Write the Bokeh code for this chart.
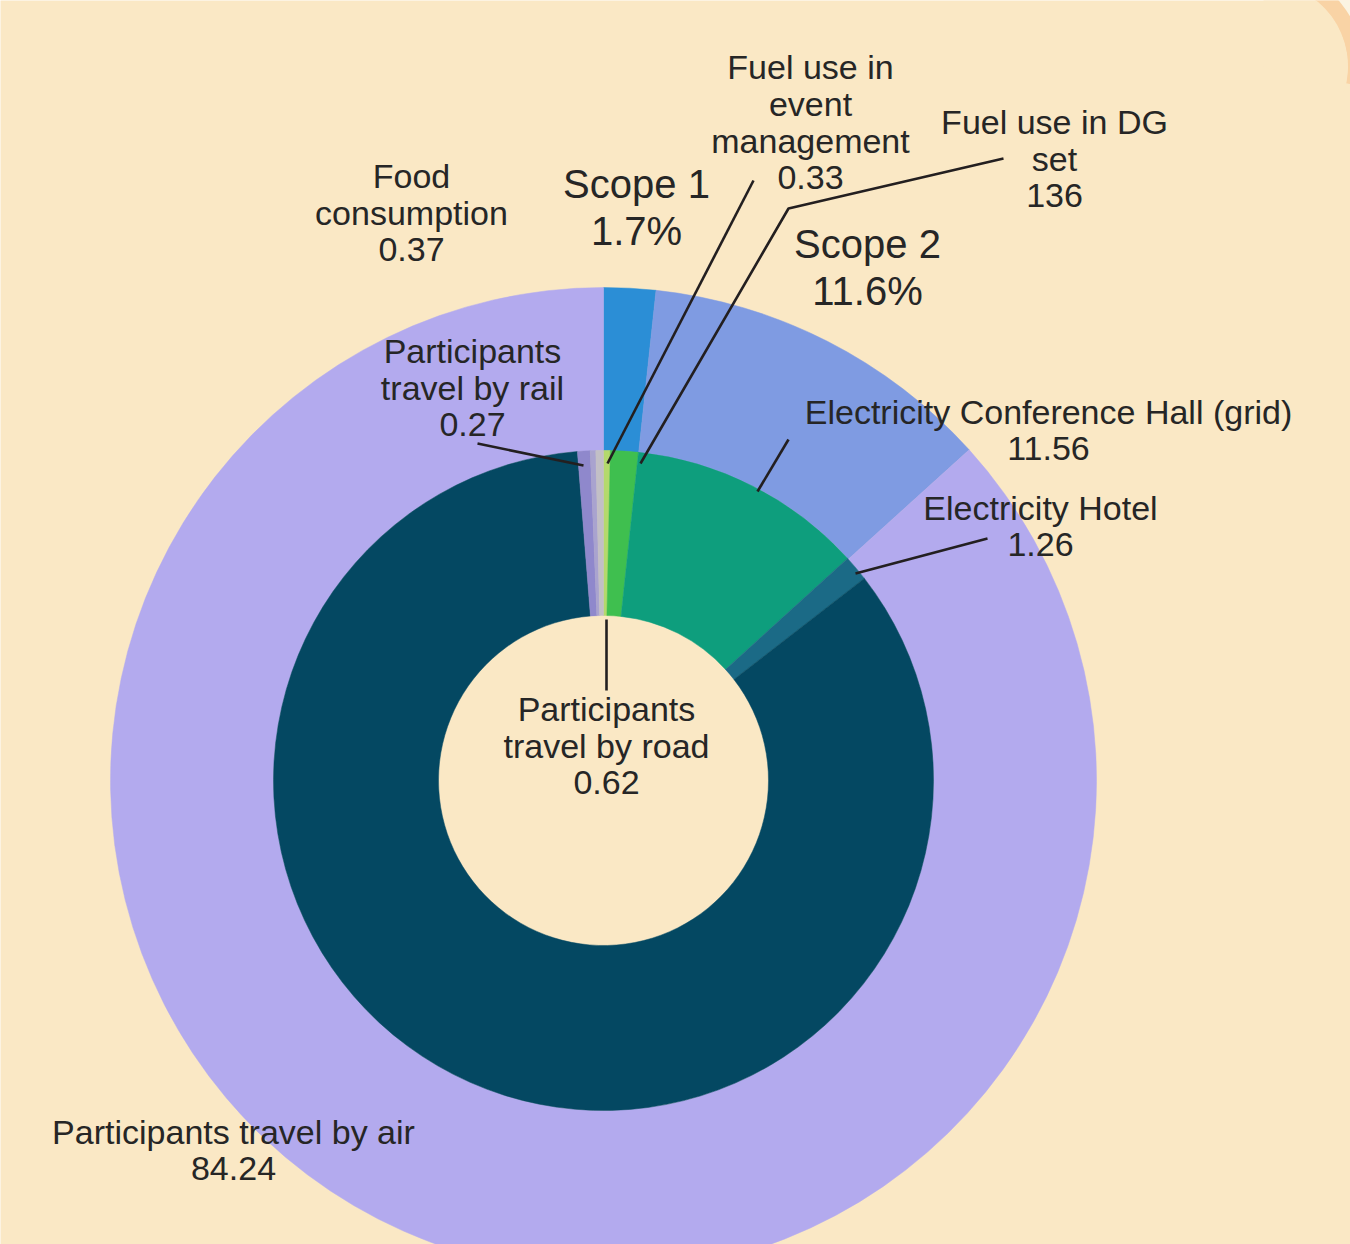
import numpy as np
from bokeh.plotting import figure
from bokeh.models import Range1d
from bokeh.core.properties import value
from bokeh.embed import file_html
from bokeh.resources import INLINE

# ---------------- data ----------------
scope_names = ["Scope 1", "Scope 2", "Scope 3"]
scope_pct = [1.7, 11.6, 86.7]
scope_colors = ["#2B8ED6", "#7F9BE2", "#B3AAEE"]

source_names = ["Fuel use in event management", "Fuel use in DG set",
                "Electricity Conference Hall (grid)", "Electricity Hotel",
                "Participants travel by air", "Participants travel by road",
                "Participants travel by rail", "Food consumption"]
source_values = [0.33, 1.36, 11.56, 1.26, 84.24, 0.62, 0.27, 0.37]
source_colors = ["#B4D96C", "#3FBF4F", "#0E9E7D", "#1B6A86",
                 "#044862", "#8F88CC", "#A9A3CF", "#C2BFC6"]

label_texts = [
    ["Fuel use in", "event", "management", "0.33"],
    ["Fuel use in DG", "set", "136"],
    ["Electricity Conference Hall (grid)", "11.56"],
    ["Electricity Hotel", "1.26"],
    ["Participants travel by air", "84.24"],
    ["Participants", "travel by road", "0.62"],
    ["Participants", "travel by rail", "0.27"],
    ["Food", "consumption", "0.37"],
]
scope_label_texts = [["Scope 1", "1.7%"], ["Scope 2", "11.6%"]]

# ---------------- layout (page pixels, y downward) ----------------
W, H = 1350, 1244
BG = "#FAE8C5"
TXT = "#262626"
CX, CY = 603, 780
R_OUT, R_MID, R_IN = 493, 330, 165

label_pos = [(810, 66), (1054, 121), (1048, 411), (1040, 507),
             (233, 1131), (606, 708), (472, 350), (411, 175)]
scope_label_pos = [(636, 183), (867, 243)]
LINE_STEP = 37
SCOPE_STEP = 47

leaders = [
    [(753, 180), (607, 463)],
    [(1003, 158), (788, 208), (640, 463)],
    [(788, 439), (757, 491)],
    [(987, 538), (855, 573)],
    [(606, 619), (606, 690)],
    [(477, 443), (583, 465)],
]

p = figure(width=W, height=H, output_backend="svg", toolbar_location=None,
           x_range=Range1d(0, W), y_range=Range1d(-H, 0),
           min_border=0, background_fill_color=BG, border_fill_color=BG,
           outline_line_color=None)
p.axis.visible = False
p.grid.visible = False


def angles(vals):
    frac = np.asarray(vals, dtype=float) / float(np.sum(vals))
    cum = np.concatenate([[0.0], np.cumsum(frac)])
    start = np.pi / 2 - cum[:-1] * 2 * np.pi
    end = np.pi / 2 - cum[1:] * 2 * np.pi
    return start, end


# frame corner (top-right)
p.quad(left=1285, right=1360, top=0, bottom=-60, fill_color="#FBF4E2", line_color=None)
p.annular_wedge(x=1263, y=-66, inner_radius=84, outer_radius=100,
                start_angle=-0.2, end_angle=np.pi / 2, fill_color="#F9D3A5", line_color=None)
p.wedge(x=1263, y=-66, radius=84.5, start_angle=-0.3, end_angle=np.pi / 2,
        fill_color=BG, line_color=None)

# outer ring: scopes
s0, s1 = angles(scope_pct)
p.annular_wedge(x=CX, y=-CY, inner_radius=R_MID, outer_radius=R_OUT,
                start_angle=s0, end_angle=s1, direction="clock",
                fill_color=scope_colors, line_color=scope_colors, line_width=0.5)

# inner ring: sources
a0, a1 = angles(source_values)
p.annular_wedge(x=CX, y=-CY, inner_radius=R_IN, outer_radius=R_MID,
                start_angle=a0, end_angle=a1, direction="clock",
                fill_color=source_colors, line_color=source_colors, line_width=0.5)

# leader lines
for pts in leaders:
    p.line([q[0] for q in pts], [-q[1] for q in pts], line_color="#231F20", line_width=2.6)

# labels
xs, ys, ts = [], [], []
for lines, (lx, ly) in zip(label_texts, label_pos):
    for i, t in enumerate(lines):
        xs.append(lx); ys.append(-(ly + i * LINE_STEP)); ts.append(t)
p.text(x=xs, y=ys, text=ts, text_font=value("Liberation Sans"), text_font_size="34px",
       text_align="center", text_baseline="middle", text_color=TXT)

xs, ys, ts = [], [], []
for lines, (lx, ly) in zip(scope_label_texts, scope_label_pos):
    for i, t in enumerate(lines):
        xs.append(lx); ys.append(-(ly + i * SCOPE_STEP)); ts.append(t)
p.text(x=xs, y=ys, text=ts, text_font=value("Liberation Sans"), text_font_size="40px",
       text_align="center", text_baseline="middle", text_color=TXT)

open("out.html", "w").write(file_html(p, INLINE))
